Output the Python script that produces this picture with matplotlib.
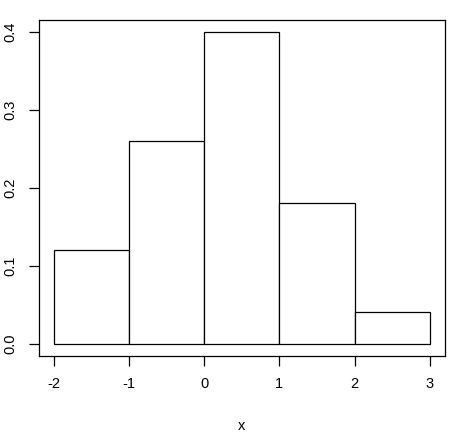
import matplotlib
matplotlib.use("Agg")
import matplotlib.pyplot as plt

bin_edges = [-2, -1, 0, 1, 2, 3]
density = [0.12, 0.26, 0.40, 0.18, 0.04]
xticks = [-2, -1, 0, 1, 2, 3]
yticks = [0.0, 0.1, 0.2, 0.3, 0.4]
ytick_labels = ["0.0", "0.1", "0.2", "0.3", "0.4"]

plt.rcParams['font.family'] = ['Liberation Sans', 'DejaVu Sans']

W, H = 465, 433
fig = plt.figure(figsize=(W / 100, H / 100), dpi=100)
left, right, top, bottom = 38.5, 445, 19.5, 356
ax = fig.add_axes([left / W, (H - bottom) / H, (right - left) / W, (bottom - top) / H])

lefts = bin_edges[:-1]
widths = [b - a for a, b in zip(bin_edges[:-1], bin_edges[1:])]
ax.bar(lefts, density, width=widths, align='edge', facecolor='white',
       edgecolor='black', linewidth=0.9)

ax.set_xlim(-2.2, 3.2)
ax.set_ylim(-0.016, 0.416)
ax.set_xticks(xticks)
ax.set_xticklabels([str(t) for t in xticks])
ax.set_yticks(yticks)
ax.set_yticklabels(ytick_labels, rotation=90, va='center')

for s in ax.spines.values():
    s.set_linewidth(0.9)
    s.set_color('black')

ax.tick_params(axis='both', direction='out', length=7.2, width=0.9,
               labelsize=10.5, colors='black')
ax.tick_params(axis='x', pad=8)
ax.tick_params(axis='y', pad=8)

ax.set_xlabel('x', fontsize=10.5)
ax.xaxis.set_label_coords(0.5, -(426 - bottom) / (bottom - top))
ax.xaxis.label.set_va('center')

fig.savefig('out.png', dpi=100)
